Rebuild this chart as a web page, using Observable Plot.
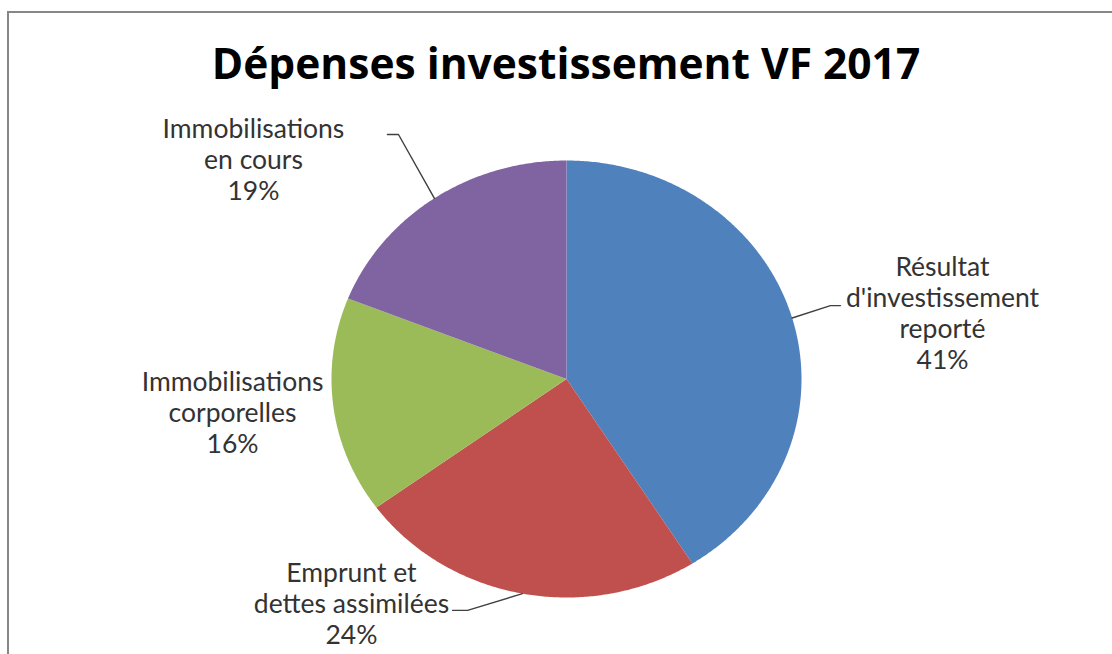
<!DOCTYPE html>
<html>
<head>
<meta charset="utf-8">
<script src="https://cdn.jsdelivr.net/npm/d3@7"></script>
<script src="https://cdn.jsdelivr.net/npm/@observablehq/plot@0.6"></script>
<style>
  html, body { margin: 0; padding: 0; background: #fff; }
  #wrap { position: relative; width: 1112px; height: 654px; overflow: hidden; background: #fff; }
  #frame { position: absolute; left: 7px; top: 11px; width: 1200px; height: 800px; border: 2px solid #878787; box-sizing: border-box; pointer-events: none; }
  #title { position: relative; height: 100px; box-sizing: border-box; padding-top: 37px; padding-left: 20px; text-align: center;
           font-family: "Open Sans", Lato, sans-serif; font-weight: bold; font-size: 42.5px; line-height: 1.2; color: #000; white-space: nowrap; }
  #chart svg { display: block; }
</style>
</head>
<body>
<div id="wrap">
  <div id="frame"></div>
  <div id="title">Dépenses investissement VF 2017</div>
  <div id="chart"></div>
</div>
<script>
// ---- data ----
const categories = ["Résultat d'investissement reporté", "Emprunt et dettes assimilées", "Immobilisations corporelles", "Immobilisations en cours"];
const labelLines = ["Résultat\nd'investissement\nreporté", "Emprunt et\ndettes assimilées", "Immobilisations\ncorporelles", "Immobilisations\nen cours"];
const values = [41, 24, 16, 19];
const colors = ["#4F81BD", "#C0504D", "#9BBB59", "#8064A2"];

// ---- layout (unit coordinates relative to the pie, radius = 1) ----
const labelPos = [[1.600, 0.302], [-0.915, -1.027], [-1.421, -0.153], [-1.332, 1.005]];
const leaderElbow = [[1.123, 0.336], [-0.421, -1.059], null, [-0.715, 1.119]];
const leaderEnd = [[1.166, 0.336], [-0.485, -1.059], null, [-0.762, 1.119]];

const total = d3.sum(values);
const arcs = d3.pie().sort(null).value(d => d)(values);

// wedge polygons
const wedgePts = [];
arcs.forEach((a, i) => {
  wedgePts.push({name: categories[i], x: 0, y: 0});
  const n = Math.max(2, Math.ceil((a.endAngle - a.startAngle) / (Math.PI / 360)));
  for (let k = 0; k <= n; k++) {
    const t = a.startAngle + (a.endAngle - a.startAngle) * k / n;
    wedgePts.push({name: categories[i], x: Math.sin(t), y: Math.cos(t)});
  }
});

// leader lines
const leaderPts = [];
arcs.forEach((a, i) => {
  if (!leaderElbow[i]) return;
  const m = (a.startAngle + a.endAngle) / 2;
  leaderPts.push({id: i, x: Math.sin(m), y: Math.cos(m)});
  leaderPts.push({id: i, x: leaderElbow[i][0], y: leaderElbow[i][1]});
  leaderPts.push({id: i, x: leaderEnd[i][0], y: leaderEnd[i][1]});
});

const labels = categories.map((c, i) => ({
  text: labelLines[i] + "\n" + Math.round(values[i] / total * 100) + "%",
  x: labelPos[i][0], y: labelPos[i][1]
}));

const chart = Plot.plot({
  width: 1112,
  height: 554,
  margin: 0,
  x: {domain: [-1, 1], range: [331, 801], axis: null},
  y: {domain: [-1, 1], range: [497, 60], axis: null},
  color: {domain: categories, range: colors, legend: false},
  style: {background: "transparent", overflow: "visible"},
  marks: [
    Plot.line(wedgePts, {x: "x", y: "y", z: "name", fill: "name", stroke: "none", curve: "linear-closed"}),
    Plot.line(leaderPts, {x: "x", y: "y", z: "id", stroke: "#404040", strokeWidth: 1.4}),
    Plot.text(labels, {x: "x", y: "y", text: "text", fontSize: 26.5, lineHeight: 1.17,
      fontFamily: "Lato, 'Open Sans', sans-serif", fill: "#333", textAnchor: "middle"})
  ]
});
document.getElementById("chart").appendChild(chart);
</script>
</body>
</html>
